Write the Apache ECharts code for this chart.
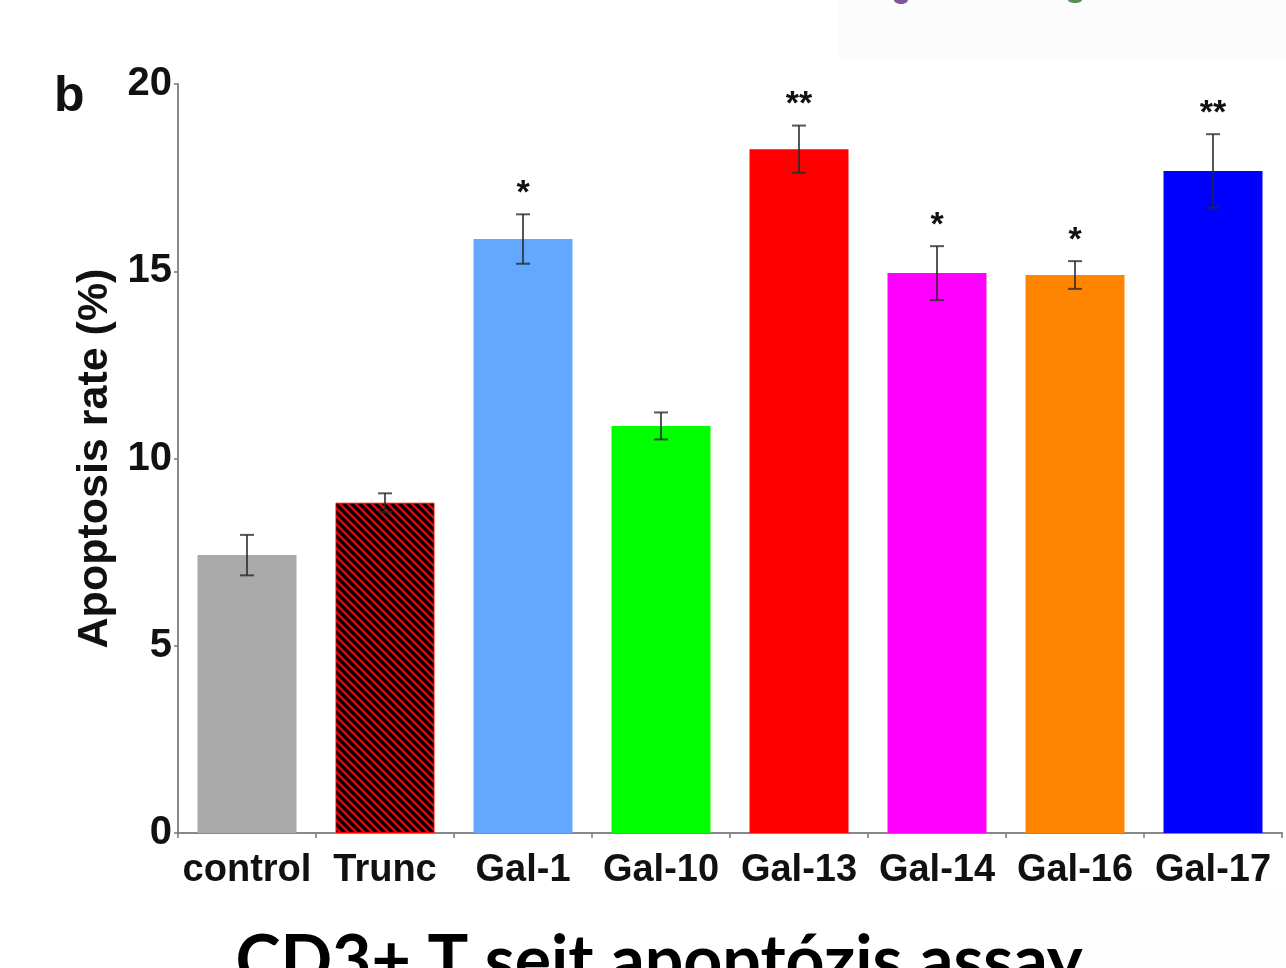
<!DOCTYPE html>
<html>
<head>
<meta charset="utf-8">
<script src="https://cdn.jsdelivr.net/npm/echarts@6/dist/echarts.min.js"></script>
<style>
html,body{margin:0;padding:0;background:#fff;}
#chart{width:1286px;height:968px;}
</style>
</head>
<body>
<div id="chart"></div>
<script>
var categories = ['control', 'Trunc', 'Gal-1', 'Gal-10', 'Gal-13', 'Gal-14', 'Gal-16', 'Gal-17'];
var values = [7.42, 8.82, 15.86, 10.87, 18.26, 14.95, 14.90, 17.68];
var errors = [0.54, 0.25, 0.66, 0.36, 0.63, 0.72, 0.37, 0.98];
var stars = ['', '', '*', '', '**', '*', '*', '**'];
var yTicks = [0, 5, 10, 15, 20];

// striped pattern for Trunc
function makeStripes() {
  var P = 8;
  var c = document.createElement('canvas');
  c.width = P; c.height = P;
  var ctx = c.getContext('2d');
  ctx.fillStyle = '#ee0000';
  ctx.fillRect(0, 0, P, P);
  ctx.strokeStyle = '#000000';
  ctx.lineWidth = P / (2 * Math.SQRT2) + 0.3;
  for (var k = -1; k <= 1; k++) {
    ctx.beginPath();
    ctx.moveTo(-P + k * P, -P);
    ctx.lineTo(2 * P + k * P, 2 * P);
    ctx.stroke();
  }
  return c;
}

var barColors = ['#aaaaaa', null, '#62a8ff', '#00ff00', '#ff0000', '#ff00ff', '#ff8400', '#0000ff'];
var stripe = makeStripes();

var barData = values.map(function (v, i) {
  if (i === 1) {
    return { value: v, itemStyle: { color: { image: stripe, repeat: 'repeat' }, borderColor: '#ff0000', borderWidth: 1 } };
  }
  return { value: v, itemStyle: { color: barColors[i] } };
});

var errData = values.map(function (v, i) { return [i, v, errors[i]]; });

var chart = echarts.init(document.getElementById('chart'));
var option = {
  animation: false,
  backgroundColor: '#ffffff',
  grid: { left: 178, right: 4, top: 84, bottom: 135, containLabel: false },
  xAxis: {
    type: 'category',
    data: categories,
    axisLine: { lineStyle: { color: '#888888', width: 2 } },
    axisTick: { show: true, length: 5, lineStyle: { color: '#777777', width: 1.5 } },
    axisLabel: { color: '#111111', fontFamily: 'Liberation Sans', fontWeight: 'bold', fontSize: 38, margin: 19, interval: 0 }
  },
  yAxis: {
    type: 'value',
    min: 0, max: 20, interval: 5,
    name: 'Apoptosis rate (%)',
    nameLocation: 'middle',
    nameGap: 56,
    nameRotate: 90,
    nameTextStyle: { color: '#111111', fontFamily: 'Liberation Sans', fontWeight: 'bold', fontSize: 43 },
    splitLine: { show: false },
    axisLine: { show: true, lineStyle: { color: '#888888', width: 2 } },
    axisTick: { show: true, length: 4, lineStyle: { color: '#777777', width: 1.5 } },
    axisLabel: {
      color: '#111111', fontFamily: 'Liberation Sans', fontWeight: 'bold', fontSize: 40, margin: 6,
      formatter: function (v) { return yTicks.indexOf(v) >= 0 ? String(v) : ''; }
    }
  },
  series: [
    {
      type: 'bar',
      data: barData,
      barWidth: 99,
      z: 2
    },
    {
      type: 'custom',
      data: errData,
      z: 5,
      renderItem: function (params, api) {
        var i = api.value(0), v = api.value(1), e = api.value(2);
        var s = stars[params.dataIndex];
        var hi = api.coord([i, v + e]);
        var lo = api.coord([i, v - e]);
        var cap = 7;
        var st = { stroke: 'rgba(40,40,40,0.78)', lineWidth: 2 };
        var children = [
          { type: 'line', shape: { x1: hi[0], y1: hi[1], x2: lo[0], y2: lo[1] }, style: st },
          { type: 'line', shape: { x1: hi[0] - cap, y1: hi[1], x2: hi[0] + cap, y2: hi[1] }, style: st },
          { type: 'line', shape: { x1: lo[0] - cap, y1: lo[1], x2: lo[0] + cap, y2: lo[1] }, style: st }
        ];
        if (s) {
          children.push({
            type: 'text',
            style: { text: s, x: hi[0], y: hi[1] - 4, align: 'center', verticalAlign: 'bottom',
              font: 'bold 34px "Liberation Sans"', fill: '#111111' }
          });
        }
        return { type: 'group', children: children };
      }
    }
  ],
  graphic: [
    { type: 'rect', shape: { x: 838, y: 0, width: 448, height: 58 }, style: { fill: '#fcfcfc' }, z: -10 },
    { type: 'rect', shape: { x: 1040, y: 888, width: 246, height: 80 }, style: { fill: '#fdfdfd' }, z: -10 },
    { type: 'ellipse', shape: { cx: 901, cy: 0, rx: 7, ry: 4 }, style: { fill: '#6a3a8a', opacity: 0.85 } },
    { type: 'ellipse', shape: { cx: 1075, cy: 0, rx: 7, ry: 3 }, style: { fill: '#3a7a3a', opacity: 0.85 } },
    { type: 'text', x: 54, y: 72, style: { text: 'b', font: 'bold 50px "Liberation Sans"', fill: '#111111' } },
    { type: 'text', x: 659, y: 928, style: { text: 'CD3+ T sejt apoptózis assay', font: 'bold 68px Lato', fill: '#000000', align: 'center' } }
  ]
};
chart.setOption(option);
</script>
</body>
</html>
